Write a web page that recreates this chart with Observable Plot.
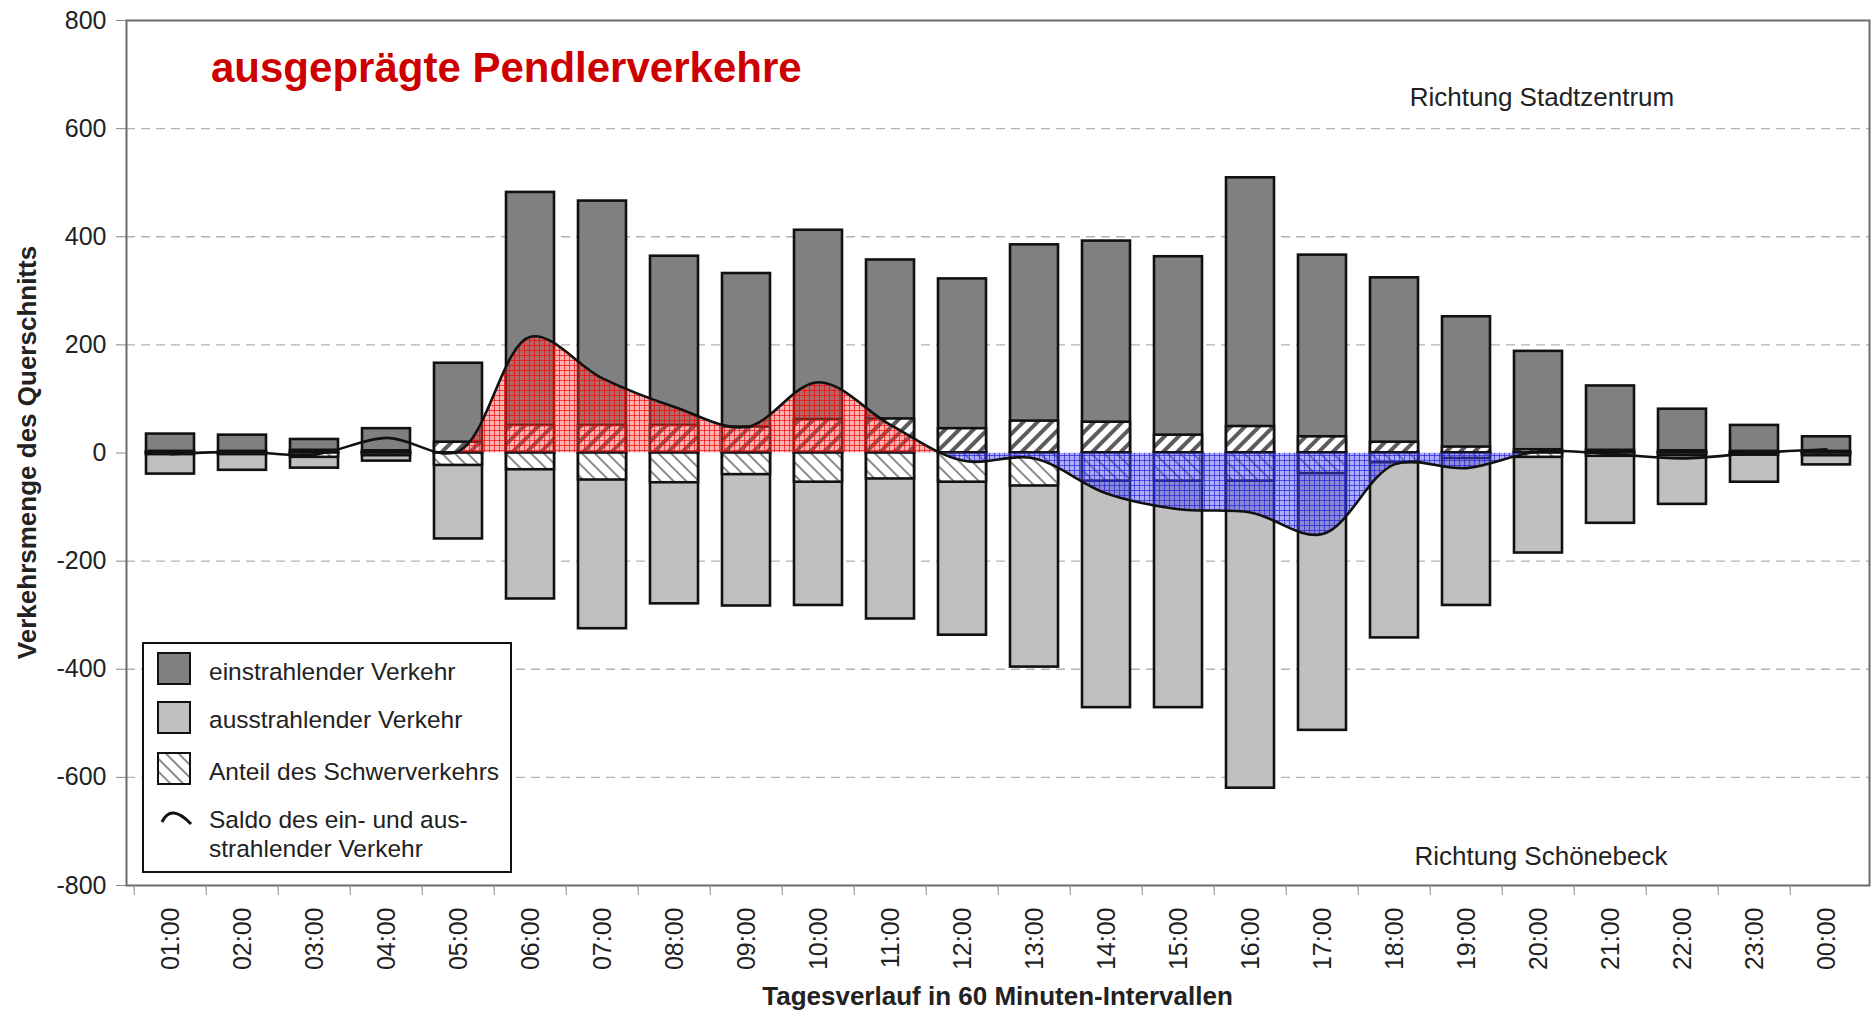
<!DOCTYPE html>
<html><head><meta charset="utf-8">
<script src="https://cdn.jsdelivr.net/npm/d3@7"></script>
<script src="https://cdn.jsdelivr.net/npm/@observablehq/plot@0.6"></script>
<style>
html,body{margin:0;padding:0;background:#fff;}
#chart{position:relative;width:1872px;height:1014px;}
</style></head><body><div id="chart"></div>
<script>
// ---- data ----
const hours = ["01:00","02:00","03:00","04:00","05:00","06:00","07:00","08:00","09:00","10:00","11:00","12:00",
               "13:00","14:00","15:00","16:00","17:00","18:00","19:00","20:00","21:00","22:00","23:00","00:00"];
const einstrahlend = [35,33,25,45,166,482,466,364,332,412,357,322,385,392,363,509,366,324,252,188,124,81,51,30];
const ausstrahlend = [-39,-32,-28,-15,-159,-270,-325,-279,-283,-282,-307,-337,-396,-471,-471,-620,-513,-342,-282,-185,-130,-95,-54,-22];
const schwerEin = [3,3,5,4,20,51,51,51,48,62,63,45,59,57,33,49,30,20,11,6,5,4,3,3];
const schwerAus = [-3,-3,-8,-5,-23,-31,-50,-55,-40,-54,-48,-54,-61,-52,-52,-52,-38,-18,-10,-8,-6,-5,-4,-5];
const saldo = [-2,2,-3,28,3,215,138,85,48,131,52,-14,-10,-75,-104,-110,-150,-21,-28,3,-2,-10,0,7];
const yTicks = [-800,-600,-400,-200,0,200,400,600,800];
const gridValues = [-600,-400,-200,200,400,600];
const titleText = "ausgeprägte Pendlerverkehre";
const upperNote = "Richtung Stadtzentrum";
const lowerNote = "Richtung Schönebeck";
const xTitle = "Tagesverlauf in 60 Minuten-Intervallen";
const yTitle = "Verkehrsmenge des Querschnitts";
const legendLabels = ["einstrahlender Verkehr","ausstrahlender Verkehr","Anteil des Schwerverkehrs",
                      ["Saldo des ein- und aus-","strahlender Verkehr"]];
const positiveRange = ["05:00","12:00"];
const negativeRange = ["11:00","20:00"];

const rows = hours.map((h,i)=>({hour:h, ein:einstrahlend[i], aus:ausstrahlend[i], sEin:schwerEin[i], sAus:schwerAus[i], saldo:saldo[i]}));

const W=1872, H=1014, mL=126, mR=3, mT=20, mB=129;
const step = (W-mL-mR)/hours.length;
const FONT = "'Liberation Sans', Arial, Helvetica, sans-serif";

const plot = Plot.plot({
  width: W, height: H, marginLeft: mL, marginRight: mR, marginTop: mT, marginBottom: mB,
  style: {fontFamily: FONT, fontSize: "25px", color: "#222", background: "#fff", overflow: "visible"},
  x: {domain: hours, type: "band", paddingInner: 0.34, paddingOuter: 0.17},
  y: {domain: [-800, 800]},
  marks: [
    Plot.ruleY(gridValues, {stroke: "#b3b3b3", strokeWidth: 1.4, strokeDasharray: "9,6"}),
    Plot.barY(rows, {x:"hour", y1:0, y2:"ein", fill:"#808080", stroke:"#111", strokeWidth:2.6}),
    Plot.barY(rows, {x:"hour", y1:0, y2:"sEin", fill:"url(#hatchUp)", stroke:"#111", strokeWidth:2.6}),
    Plot.barY(rows, {x:"hour", y1:0, y2:"aus", fill:"#c0c0c0", stroke:"#111", strokeWidth:2.6}),
    Plot.barY(rows, {x:"hour", y1:0, y2:"sAus", fill:"url(#hatchDown)", stroke:"#111", strokeWidth:2.6}),
    Plot.areaY(rows, {x:"hour", y1:0, y2:"saldo", curve:"catmull-rom", fill:"#ff0000"}),
    Plot.areaY(rows, {x:"hour", y1:0, y2:"saldo", curve:"catmull-rom", fill:"#0000ff"}),
    Plot.line(rows, {x:"hour", y:"saldo", curve:"catmull-rom", stroke:"#111", strokeWidth:2.6}),
    Plot.frame({stroke:"#6b6b6b", strokeWidth:2}),
    Plot.axisY({ticks: yTicks, tickFormat: d => String(d), tickSize: 10, tickPadding: 10, label: null, stroke: "#888", fontSize: 25}),
    Plot.axisX({tickSize: 10, tickFormat: () => "", dx: -step/2, label: null, stroke: "#888"}),
    Plot.axisX({tickSize: 0, tickPadding: 22, tickRotate: -90, label: null, fontSize: 25})
  ]
});
document.getElementById("chart").appendChild(plot);

// ---- decorations ----
const svg = d3.select(plot);
const defs = svg.insert("defs", ":first-child");
function stripes(id, angle, size, w, color){
  const p = defs.append("pattern").attr("id", id).attr("patternUnits","userSpaceOnUse")
    .attr("width", size).attr("height", size).attr("patternTransform", `rotate(${angle})`);
  p.append("rect").attr("width", size).attr("height", size).attr("fill", "#fff");
  p.append("rect").attr("width", w).attr("height", size).attr("fill", color);
}
stripes("hatchUp", 45, 10, 4, "#5c5c5c");
stripes("hatchDown", -45, 9, 2, "#8c8c8c");
function grid(id, bg, line){
  const p = defs.append("pattern").attr("id", id).attr("patternUnits","userSpaceOnUse").attr("width",5).attr("height",5);
  p.append("rect").attr("width",5).attr("height",5).attr("fill", bg);
  p.append("path").attr("d","M0,0.5H5M0.5,0V5").attr("stroke", line).attr("stroke-width",0.9).attr("fill","none");
}
grid("gridRed", "rgba(255,70,70,0.42)", "rgba(240,0,0,0.75)");
grid("gridBlue", "rgba(70,70,240,0.45)", "rgba(30,30,215,0.75)");

const xs = plot.scale("x"), ys = plot.scale("y");
const bw = (xs && xs.bandwidth) || 0;
const cx = h => xs.apply(h) + bw/2;
const y0 = ys.apply(0);
defs.append("clipPath").attr("id","clipRed").append("rect")
  .attr("x", cx(positiveRange[0])).attr("y", 0)
  .attr("width", cx(positiveRange[1]) - cx(positiveRange[0])).attr("height", y0);
defs.append("clipPath").attr("id","clipBlue").append("rect")
  .attr("x", cx(negativeRange[0])).attr("y", y0)
  .attr("width", cx(negativeRange[1]) - cx(negativeRange[0])).attr("height", H - y0);
const areaGroups = plot.querySelectorAll('g[aria-label="area"]');
function wrapClip(node, clipId, patternId){
  if (!node) return;
  node.setAttribute("fill", `url(#${patternId})`);
  node.querySelectorAll("path").forEach(p => p.setAttribute("fill", `url(#${patternId})`));
  const wrap = document.createElementNS("http://www.w3.org/2000/svg","g");
  node.parentNode.insertBefore(wrap, node); wrap.appendChild(node);
  wrap.setAttribute("clip-path", `url(#${clipId})`);
}
wrapClip(areaGroups[0], "clipRed", "gridRed");
wrapClip(areaGroups[1], "clipBlue", "gridBlue");

const ann = svg.append("g").attr("font-family", FONT).attr("text-anchor","start");
ann.append("text").text(titleText).attr("x", 211).attr("y", 82).attr("font-size", 42).attr("font-weight","bold").attr("fill","#cc0000");
ann.append("text").text(upperNote).attr("x", 1542).attr("y", 106).attr("text-anchor","middle").attr("font-size",26).attr("fill","#222");
ann.append("text").text(lowerNote).attr("x", 1541).attr("y", 865).attr("text-anchor","middle").attr("font-size",26).attr("fill","#222");
ann.append("text").text(xTitle).attr("x", (mL + W - mR)/2).attr("y", 1005).attr("text-anchor","middle").attr("font-size",26).attr("font-weight","bold").attr("fill","#222");
ann.append("text").text(yTitle).attr("transform", `translate(27,${(mT + H - mB)/2}) rotate(-90)`).attr("text-anchor","middle")
  .attr("dominant-baseline","central").attr("font-size",26).attr("font-weight","bold").attr("fill","#222");

// legend
const lg = svg.append("g").attr("transform","translate(143,643)").attr("font-family", FONT).attr("text-anchor","start");
lg.append("rect").attr("width",368).attr("height",229).attr("fill","#fff").attr("stroke","#111").attr("stroke-width",2);
const swFills = ["#808080","#c0c0c0","url(#hatchDown)"];
const swY = [10, 59, 110];
swFills.forEach((f,i)=>{
  lg.append("rect").attr("x",15).attr("y",swY[i]).attr("width",32).attr("height",31).attr("fill",f).attr("stroke","#111").attr("stroke-width",2);
});
const baselines = [37, 85, 137];
legendLabels.slice(0,3).forEach((t,i)=>{
  lg.append("text").text(t).attr("x",66).attr("y",baselines[i]).attr("font-size",24.5).attr("fill","#222");
});
lg.append("path").attr("d","M19,179 Q28,160 48,181").attr("fill","none").attr("stroke","#111").attr("stroke-width",3);
legendLabels[3].forEach((t,i)=>{
  lg.append("text").text(t).attr("x",66).attr("y",185 + i*29).attr("font-size",24.5).attr("fill","#222");
});
</script>
</body></html>
